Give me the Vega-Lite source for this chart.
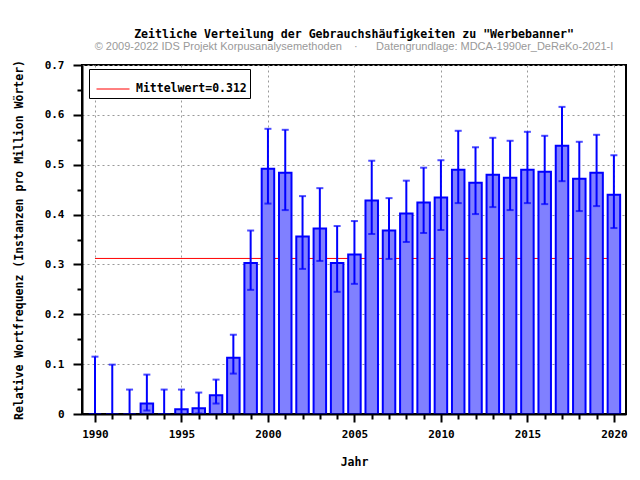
{
  "$schema": "https://vega.github.io/schema/vega-lite/v6.json",
  "width": 544,
  "height": 349,
  "autosize": {"type": "none"},
  "padding": {"left": 82, "top": 65, "right": 14, "bottom": 66},
  "background": "white",
  "title": {
    "text": "Zeitliche Verteilung der Gebrauchshäufigkeiten zu \"Werbebanner\"",
    "subtitle": "© 2009-2022 IDS Projekt Korpusanalysemethoden\u00a0\u00a0\u00a0\u00a0·\u00a0\u00a0\u00a0\u00a0\u00a0\u00a0Datengrundlage: MDCA-1990er_DeReKo-2021-I",
    "anchor": "middle",
    "font": "DejaVu Sans Mono",
    "fontWeight": "bold",
    "fontSize": 11.6,
    "color": "black",
    "subtitleFont": "Liberation Sans",
    "subtitleFontSize": 11,
    "subtitleColor": "#999999",
    "subtitlePadding": 0,
    "offset": 7
  },
  "config": {
    "view": {"stroke": "black", "strokeWidth": 2},
    "axis": {
      "labelFont": "DejaVu Sans Mono",
      "labelFontWeight": "bold",
      "labelFontSize": 11,
      "labelColor": "black",
      "titleFont": "DejaVu Sans Mono",
      "titleFontWeight": "bold",
      "titleFontSize": 11.5,
      "titleColor": "black"
    },
    "legend": {
      "orient": "none",
      "legendX": 7,
      "legendY": 4,
      "strokeColor": "black",
      "strokeWidth": 1,
      "fillColor": "white",
      "padding": 3,
      "symbolType": "stroke",
      "symbolSize": 1089,
      "symbolStrokeWidth": 1,
      "symbolOffset": 4,
      "labelOffset": 6,
      "labelFont": "DejaVu Sans Mono",
      "labelFontWeight": "bold",
      "labelFontSize": 11.5,
      "labelColor": "black",
      "title": null
    }
  },
  "datasets": {
    "freq": [
      {"year": 1990, "val": 0, "lo": 0, "hi": 0.115},
      {"year": 1991, "val": 0, "lo": 0, "hi": 0.099},
      {"year": 1992, "val": 0, "lo": 0, "hi": 0.049},
      {"year": 1993, "val": 0.021, "lo": 0.007, "hi": 0.079},
      {"year": 1994, "val": 0, "lo": 0, "hi": 0.049},
      {"year": 1995, "val": 0.0094, "lo": 0, "hi": 0.049},
      {"year": 1996, "val": 0.0114, "lo": 0.001, "hi": 0.043},
      {"year": 1997, "val": 0.0375, "lo": 0.021, "hi": 0.069},
      {"year": 1998, "val": 0.113, "lo": 0.081, "hi": 0.159},
      {"year": 1999, "val": 0.303, "lo": 0.249, "hi": 0.368},
      {"year": 2000, "val": 0.492, "lo": 0.422, "hi": 0.572},
      {"year": 2001, "val": 0.484, "lo": 0.409, "hi": 0.570},
      {"year": 2002, "val": 0.356, "lo": 0.291, "hi": 0.437},
      {"year": 2003, "val": 0.372, "lo": 0.307, "hi": 0.453},
      {"year": 2004, "val": 0.303, "lo": 0.245, "hi": 0.377},
      {"year": 2005, "val": 0.320, "lo": 0.261, "hi": 0.387},
      {"year": 2006, "val": 0.428, "lo": 0.361, "hi": 0.508},
      {"year": 2007, "val": 0.368, "lo": 0.311, "hi": 0.433},
      {"year": 2008, "val": 0.402, "lo": 0.345, "hi": 0.468},
      {"year": 2009, "val": 0.424, "lo": 0.363, "hi": 0.494},
      {"year": 2010, "val": 0.434, "lo": 0.369, "hi": 0.509},
      {"year": 2011, "val": 0.490, "lo": 0.423, "hi": 0.568},
      {"year": 2012, "val": 0.464, "lo": 0.401, "hi": 0.535},
      {"year": 2013, "val": 0.480, "lo": 0.415, "hi": 0.554},
      {"year": 2014, "val": 0.474, "lo": 0.409, "hi": 0.548},
      {"year": 2015, "val": 0.490, "lo": 0.423, "hi": 0.566},
      {"year": 2016, "val": 0.486, "lo": 0.421, "hi": 0.558},
      {"year": 2017, "val": 0.538, "lo": 0.467, "hi": 0.616},
      {"year": 2018, "val": 0.472, "lo": 0.407, "hi": 0.546},
      {"year": 2019, "val": 0.484, "lo": 0.417, "hi": 0.560},
      {"year": 2020, "val": 0.440, "lo": 0.373, "hi": 0.519}
    ],
    "mean": [
      {"year": 1990, "year2": 2020, "val": 0.312, "label": "Mittelwert=0.312"}
    ]
  },
  "resolve": {"axis": {"x": "independent", "y": "independent"}},
  "layer": [
    {
      "data": {"name": "mean"},
      "mark": {"type": "rule", "strokeWidth": 1},
      "encoding": {
        "x": {
          "field": "year", "type": "quantitative",
          "scale": {"domain": [1989.25, 2020.7], "nice": false, "zero": false, "padding": 0},
          "axis": {
            "orient": "bottom", "zindex": 0, "title": null,
            "values": [1990, 1995, 2000, 2005, 2010, 2015, 2020],
            "grid": true, "gridColor": "#999999", "gridDash": [2, 3], "gridWidth": 1,
            "labels": false, "ticks": false, "domain": false
          }
        },
        "x2": {"field": "year2"},
        "y": {
          "field": "val", "type": "quantitative",
          "scale": {"domain": [0, 0.7], "nice": false, "zero": true, "padding": 0},
          "axis": {
            "orient": "left", "zindex": 0, "title": null,
            "values": [0.1, 0.2, 0.3, 0.4, 0.5, 0.6, 0.7],
            "grid": true, "gridColor": "#999999", "gridDash": [2, 3], "gridWidth": 1,
            "labels": false, "ticks": false, "domain": false
          }
        },
        "color": {
          "field": "label", "type": "nominal",
          "scale": {"domain": ["Mittelwert=0.312"], "range": ["#ff0000"]},
          "legend": {"title": null}
        }
      }
    },
    {
      "data": {"name": "freq"},
      "mark": {"type": "bar", "size": 12.5, "fill": "#8080ff", "stroke": "#0000ff", "strokeWidth": 2},
      "encoding": {
        "x": {
          "field": "year", "type": "quantitative",
          "scale": {"domain": [1989.25, 2020.7], "nice": false, "zero": false, "padding": 0},
          "axis": {
            "orient": "bottom", "zindex": 1, "grid": false,
            "title": "Jahr", "titlePadding": 17,
            "values": [1990,1991,1992,1993,1994,1995,1996,1997,1998,1999,2000,2001,2002,2003,2004,2005,2006,2007,2008,2009,2010,2011,2012,2013,2014,2015,2016,2017,2018,2019,2020],
            "labelExpr": "datum.value % 5 == 0 ? format(datum.value, 'd') : ''",
            "labelOverlap": false, "labelFlush": false, "labelBound": false,
            "labelPadding": 6,
            "tickSize": {"condition": {"test": "datum.value % 5 == 0", "value": 8}, "value": 5},
            "tickColor": "black", "tickWidth": 2,
            "domainColor": "black", "domainWidth": 2
          }
        },
        "y": {
          "field": "val", "type": "quantitative",
          "scale": {"domain": [0, 0.7], "nice": false, "zero": true, "padding": 0},
          "axis": {
            "orient": "left", "zindex": 1, "grid": false,
            "title": "Relative Wortfrequenz (Instanzen pro Million Wörter)",
            "titlePadding": 20,
            "values": [0, 0.05, 0.1, 0.15, 0.2, 0.25, 0.3, 0.35, 0.4, 0.45, 0.5, 0.55, 0.6, 0.65, 0.7],
            "labelExpr": "abs(datum.value*10 - round(datum.value*10)) < 0.001 ? (datum.value == 0 ? '0' : format(datum.value, '.1f')) : ''",
            "labelOverlap": false, "labelFlush": false, "labelBound": false,
            "labelPadding": 9,
            "tickSize": {"condition": {"test": "abs(datum.value*10 - round(datum.value*10)) < 0.001", "value": 9}, "value": 5},
            "tickColor": "black", "tickWidth": 2,
            "domainColor": "black", "domainWidth": 2
          }
        }
      }
    },
    {
      "data": {"name": "freq"},
      "mark": {
        "type": "errorbar",
        "ticks": {"size": 7, "thickness": 2, "color": "#0000ff"},
        "rule": {"strokeWidth": 2, "color": "#0000ff"}
      },
      "encoding": {
        "x": {
          "field": "year", "type": "quantitative",
          "scale": {"domain": [1989.25, 2020.7], "nice": false, "zero": false, "padding": 0},
          "axis": null
        },
        "y": {
          "field": "lo", "type": "quantitative",
          "scale": {"domain": [0, 0.7], "nice": false, "zero": true, "padding": 0},
          "axis": null
        },
        "y2": {"field": "hi"}
      }
    }
  ]
}
